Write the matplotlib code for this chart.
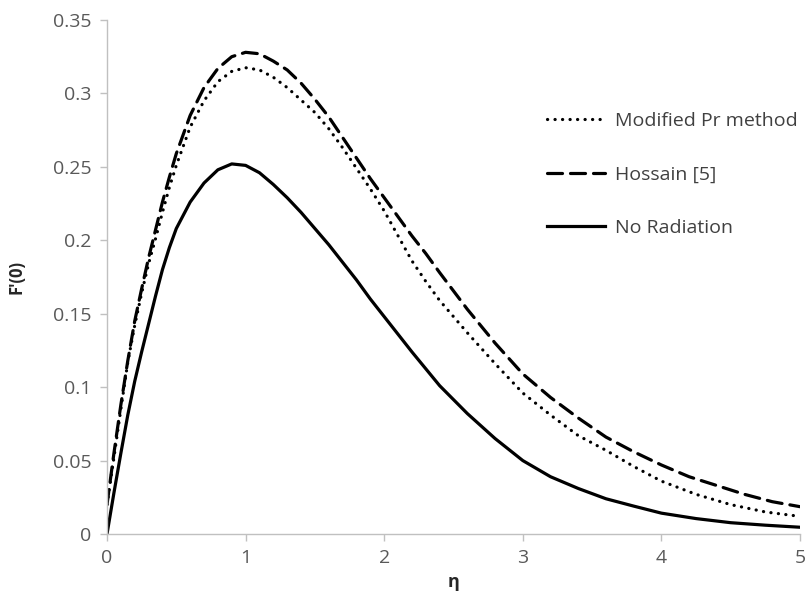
import matplotlib
matplotlib.use("Agg")
import matplotlib.pyplot as plt

# Modified Pr method (dotted)
eta_mod = [0, 0.05, 0.1, 0.15, 0.2, 0.25, 0.3, 0.35, 0.4, 0.45, 0.5, 0.6, 0.7, 0.8, 0.9, 1.0,
           1.1, 1.2, 1.3, 1.4, 1.5, 1.6, 1.7, 1.8, 1.9, 2.0, 2.1, 2.2, 2.3, 2.4, 2.6, 2.8,
           3.0, 3.2, 3.4, 3.6, 3.8, 4.0, 4.25, 4.5, 4.75, 5.0]
f_mod = [0.02, 0.052, 0.085, 0.117, 0.142, 0.164, 0.184, 0.201, 0.219, 0.236, 0.251, 0.277,
         0.295, 0.308, 0.315, 0.3175, 0.316, 0.311, 0.304, 0.2955, 0.287, 0.276, 0.263, 0.249,
         0.235, 0.220, 0.203, 0.186, 0.172, 0.159, 0.137, 0.116, 0.096, 0.081, 0.067, 0.057,
         0.046, 0.036, 0.027, 0.020, 0.015, 0.012]

# Hossain [5] (dashed)
eta_hos = [0, 0.05, 0.1, 0.15, 0.2, 0.25, 0.3, 0.35, 0.4, 0.45, 0.5, 0.6, 0.7, 0.8, 0.9, 1.0,
           1.1, 1.2, 1.3, 1.4, 1.5, 1.6, 1.7, 1.8, 1.9, 2.0, 2.1, 2.2, 2.3, 2.4, 2.6, 2.8,
           3.0, 3.2, 3.4, 3.6, 3.8, 4.0, 4.2, 4.4, 4.6, 4.8, 5.0]
f_hos = [0.02, 0.055, 0.088, 0.118, 0.145, 0.167, 0.188, 0.207, 0.226, 0.243, 0.259, 0.285,
         0.304, 0.317, 0.325, 0.328, 0.327, 0.322, 0.316, 0.307, 0.296, 0.284, 0.270, 0.256,
         0.242, 0.229, 0.216, 0.203, 0.191, 0.178, 0.153, 0.130, 0.109, 0.093, 0.079, 0.066,
         0.056, 0.047, 0.039, 0.033, 0.027, 0.022, 0.0186]

# No Radiation (solid)
eta_nr = [0, 0.05, 0.1, 0.15, 0.2, 0.25, 0.3, 0.35, 0.4, 0.45, 0.5, 0.6, 0.7, 0.8, 0.9, 1.0,
          1.1, 1.2, 1.3, 1.4, 1.5, 1.6, 1.7, 1.8, 1.9, 2.0, 2.2, 2.4, 2.6, 2.8, 3.0, 3.2,
          3.4, 3.6, 3.8, 4.0, 4.25, 4.5, 4.75, 5.0]
f_nr = [0, 0.028, 0.055, 0.081, 0.104, 0.124, 0.143, 0.162, 0.180, 0.195, 0.208, 0.226,
        0.239, 0.248, 0.252, 0.251, 0.246, 0.238, 0.229, 0.219, 0.208, 0.197, 0.185, 0.173,
        0.160, 0.148, 0.124, 0.101, 0.082, 0.065, 0.050, 0.039, 0.031, 0.024, 0.019, 0.0142,
        0.0105, 0.0077, 0.006, 0.0046]

labels = ["Modified Pr method", "Hossain [5]", "No Radiation"]
xticks = [0, 1, 2, 3, 4, 5]
yticks = [0, 0.05, 0.1, 0.15, 0.2, 0.25, 0.3, 0.35]
ytick_labels = ["0", "0.05", "0.1", "0.15", "0.2", "0.25", "0.3", "0.35"]

plt.rcParams['font.family'] = ['Open Sans', 'DejaVu Sans']

W, H = 805, 608
fig = plt.figure(figsize=(W / 100, H / 100), dpi=100)
ax = fig.add_axes([107 / W, (H - 534) / H, (800 - 107) / W, (534 - 20) / H])

lw = 2.3
ax.plot(eta_mod, f_mod, color='black', lw=lw, linestyle=(0, (0.05, 2.3)),
        dash_capstyle='round', solid_joinstyle='round', label=labels[0])
ax.plot(eta_hos, f_hos, color='black', lw=lw, linestyle=(0, (4.7, 2.5)),
        dash_capstyle='round', solid_joinstyle='round', label=labels[1])
ax.plot(eta_nr, f_nr, color='black', lw=lw, linestyle='-', solid_joinstyle='round',
        label=labels[2])

ax.set_xlim(0, 5)
ax.set_ylim(0, 0.35)
ax.set_xticks(xticks)
ax.set_yticks(yticks)
ax.set_yticklabels(ytick_labels)

for s in ['top', 'right']:
    ax.spines[s].set_visible(False)
for s in ['left', 'bottom']:
    ax.spines[s].set_color('#c0c0c0')
    ax.spines[s].set_linewidth(1.0)
ax.tick_params(axis='both', direction='out', length=5, width=1.0, color='#c0c0c0',
               labelcolor='#595959', labelsize=14, pad=6)

ax.set_xlabel('η', fontsize=13, fontweight='bold', color='#262626', labelpad=4)
ax.set_ylabel("F'(0)", fontsize=12, fontweight='bold', color='#262626', labelpad=20)

leg = ax.legend(loc='upper left', bbox_to_anchor=(547 / W, (H - 112) / H),
                bbox_transform=fig.transFigure, frameon=False, fontsize=14,
                handlelength=3.0, handletextpad=0.5, labelspacing=1.82, borderpad=0,
                borderaxespad=0)
for t in leg.get_texts():
    t.set_color('#404040')

fig.savefig('out.png', dpi=100)
